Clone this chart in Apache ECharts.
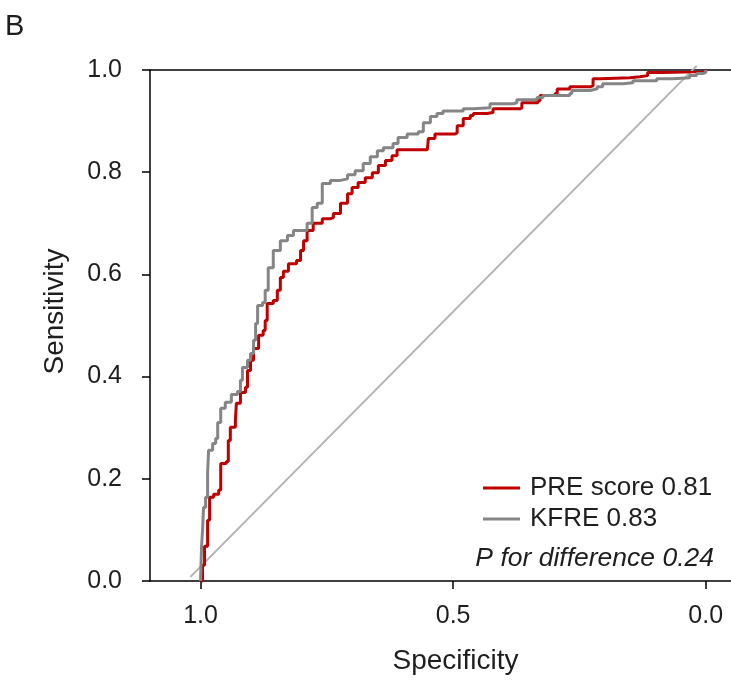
<!DOCTYPE html>
<html>
<head>
<meta charset="utf-8">
<script src="https://cdn.jsdelivr.net/npm/echarts@6/dist/echarts.min.js"></script>
<style>
html,body{margin:0;padding:0;background:#fff;}
#chart{width:731px;height:680px;}
</style>
</head>
<body>
<div id="chart"></div>
<script>
// ---- Data ----
const preSpecificity = [1.000,0.996,0.992,0.986,0.982,0.974,0.964,0.960,0.949,0.945,0.941,0.931,0.929,0.921,0.911,0.907,0.901,0.895,0.885,0.876,0.872,0.868,0.856,0.848,0.842,0.836,0.826,0.810,0.802,0.796,0.789,0.777,0.759,0.743,0.737,0.723,0.709,0.700,0.688,0.674,0.660,0.648,0.634,0.621,0.611,0.551,0.549,0.536,0.496,0.492,0.480,0.466,0.460,0.433,0.421,0.368,0.364,0.332,0.328,0.298,0.294,0.269,0.229,0.223,0.209,0.150,0.130,0.115,0.085,0.000];
const preSensitivity = [0.000,0.031,0.068,0.119,0.164,0.170,0.178,0.230,0.234,0.275,0.301,0.314,0.348,0.369,0.379,0.412,0.432,0.455,0.481,0.490,0.510,0.543,0.549,0.569,0.594,0.606,0.621,0.627,0.647,0.666,0.686,0.700,0.709,0.711,0.719,0.739,0.758,0.770,0.780,0.789,0.799,0.813,0.823,0.832,0.844,0.844,0.866,0.875,0.877,0.891,0.905,0.911,0.915,0.917,0.924,0.926,0.936,0.940,0.950,0.954,0.963,0.967,0.969,0.983,0.985,0.987,0.989,0.995,0.997,1.000];

const kfreSpecificity = [1.000,0.998,0.996,0.994,0.990,0.986,0.984,0.976,0.970,0.966,0.960,0.951,0.939,0.927,0.921,0.917,0.907,0.901,0.895,0.891,0.887,0.877,0.872,0.866,0.856,0.842,0.828,0.816,0.796,0.789,0.779,0.769,0.759,0.743,0.723,0.709,0.694,0.678,0.664,0.650,0.638,0.619,0.609,0.591,0.569,0.559,0.545,0.532,0.520,0.480,0.460,0.427,0.381,0.374,0.334,0.322,0.269,0.265,0.229,0.215,0.204,0.164,0.144,0.097,0.065,0.032,0.018,0.006,0.000];
const kfreSensitivity = [0.000,0.066,0.099,0.144,0.164,0.211,0.256,0.269,0.279,0.310,0.338,0.350,0.365,0.371,0.393,0.418,0.432,0.445,0.471,0.504,0.539,0.545,0.569,0.613,0.647,0.666,0.676,0.686,0.686,0.700,0.731,0.739,0.778,0.784,0.787,0.795,0.803,0.817,0.830,0.842,0.848,0.856,0.868,0.875,0.879,0.897,0.909,0.915,0.920,0.924,0.926,0.934,0.936,0.942,0.946,0.950,0.954,0.960,0.963,0.967,0.973,0.975,0.979,0.983,0.985,0.989,0.993,0.995,1.000];

const refSpecificity = [1.020, 0.018];
const refSensitivity = [0.008, 1.008];

const seriesNames = ['PRE score 0.81', 'KFRE 0.83'];
const pValueText = 'P for difference 0.24';
const xTickValues = [0, 0.5, 1];
const panelLabel = 'B';

// ---- Build ----
function pairs(xs, ys) { return xs.map((x, i) => [x, ys[i]]); }

const FONT = 'Liberation Sans, Arial, sans-serif';
const TXT = '#1e1e1e';

const chart = echarts.init(document.getElementById('chart'), null, {renderer: 'canvas'});
chart.setOption({
  animation: false,
  backgroundColor: '#fff',
  grid: {left: 150, right: 0, top: 70, bottom: 99, containLabel: false, outerBoundsMode: 'none'},
  xAxis: [{
    type: 'value', inverse: true, min: -0.05, max: 1.1,
    axisLine: {show: true, onZero: false, lineStyle: {color: '#000', width: 1.5}},
    axisTick: {show: true, length: 8, lineStyle: {color: '#000', width: 1.5}, customValues: xTickValues},
    axisLabel: {show: true, customValues: xTickValues, margin: 23, fontSize: 25, fontFamily: FONT, color: TXT,
      formatter: v => v.toFixed(1)},
    splitLine: {show: false},
    name: 'Specificity', nameLocation: 'middle', nameGap: 66,
    nameTextStyle: {fontSize: 28, fontFamily: FONT, color: TXT, padding: [0, 0, 0, 30]}
  }, {
    type: 'value', position: 'top', inverse: true, min: -0.05, max: 1.1,
    axisLine: {show: true, onZero: false, lineStyle: {color: '#000', width: 1.5}},
    axisTick: {show: false}, axisLabel: {show: false}, splitLine: {show: false}
  }],
  yAxis: {
    type: 'value', min: 0, max: 1, interval: 0.2,
    axisLine: {show: true, onZero: false, lineStyle: {color: '#000', width: 1.5}},
    axisTick: {show: true, length: 8, lineStyle: {color: '#000', width: 1.5}},
    axisLabel: {margin: 28, fontSize: 25, fontFamily: FONT, color: TXT, formatter: v => v.toFixed(1)},
    splitLine: {show: false},
    name: 'Sensitivity', nameLocation: 'middle', nameGap: 81,
    nameTextStyle: {fontSize: 28, fontFamily: FONT, color: TXT, padding: [0, 0, 0, 28]}
  },
  legend: {
    orient: 'vertical', left: 478, top: 468,
    data: seriesNames,
    icon: 'rect', itemWidth: 37, itemHeight: 3, itemGap: 1,
    textStyle: {fontSize: 26, fontFamily: FONT, color: TXT, lineHeight: 30, padding: [0, 0, 0, 5]},
    selectedMode: false
  },
  graphic: [{
    type: 'text', left: 5, top: 12,
    style: {text: panelLabel, fontSize: 29, fontFamily: FONT, fill: TXT}
  }, {
    type: 'text', right: 17, top: 545,
    style: {text: pValueText, fontSize: 26.5, fontStyle: 'italic', fontFamily: FONT, fill: TXT}
  }],
  series: [{
    name: 'reference', type: 'line', data: pairs(refSpecificity, refSensitivity),
    symbol: 'none', clip: false, silent: true,
    lineStyle: {color: '#b3b3b3', width: 2}, z: 1
  }, {
    name: seriesNames[0], type: 'line', data: pairs(preSpecificity, preSensitivity),
    step: 'end', symbol: 'none', clip: false,
    itemStyle: {color: '#c00000'},
    lineStyle: {color: '#c00000', width: 3}, z: 2
  }, {
    name: seriesNames[1], type: 'line', data: pairs(kfreSpecificity, kfreSensitivity),
    step: 'end', symbol: 'none', clip: false,
    itemStyle: {color: '#858585'},
    lineStyle: {color: '#858585', width: 3}, z: 3
  }]
});
</script>
</body>
</html>
